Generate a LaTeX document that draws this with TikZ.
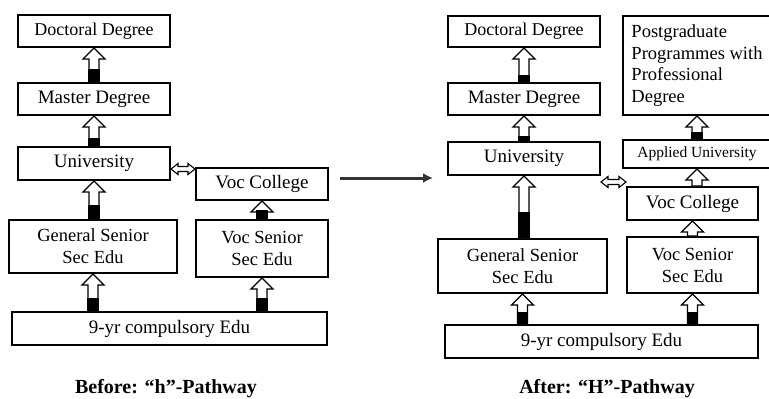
\documentclass[tikz,border=0pt]{standalone}
\usepackage{fontspec}
\setmainfont{Liberation Serif}
\usetikzlibrary{calc,arrows.meta}

\tikzset{
  level/.style={draw, line width=2pt, fill=white, inner sep=0pt, align=center,
                font=\fontsize{19}{22}\selectfont},
  hollow/.style={draw, line width=1.3pt, fill=white, line join=miter},
  caption/.style={font=\fontsize{20}{24}\selectfont\bfseries}
}

% hollow upward block arrow from #1 to #2, black foot of height #3
\newcommand{\liftarrow}[3]{%
  \draw[hollow] let \p1=(#2.south), \p2=(#1.north) in
    (\x1-5pt,\y2) -- (\x1-5pt,\y1-11pt) -- (\x1-11pt,\y1-11pt) -- (\x1,\y1)
    -- (\x1+11pt,\y1-11pt) -- (\x1+5pt,\y1-11pt) -- (\x1+5pt,\y2) -- cycle;
  \fill let \p1=(#2.south), \p2=(#1.north) in
    (\x1-5.6pt,\y2) rectangle (\x1+5.6pt,\y2+#3);
}

% hollow two-headed arrow between #1 and #2 at height #3
\newcommand{\swaparrow}[3]{%
  \draw[hollow, line width=1.1pt] let \p1=(#1.east), \p2=(#2.west), \p3=(0,#3) in
    (\x1,\y3) -- (\x1+7pt,\y3+5.5pt) -- (\x1+7pt,\y3+2.5pt) -- (\x2-7pt,\y3+2.5pt)
    -- (\x2-7pt,\y3+5.5pt) -- (\x2,\y3) -- (\x2-7pt,\y3-5.5pt) -- (\x2-7pt,\y3-2.5pt)
    -- (\x1+7pt,\y3-2.5pt) -- (\x1+7pt,\y3-5.5pt) -- cycle;
}

\begin{document}
\begin{tikzpicture}[x=1pt, y=-1pt]
  \useasboundingbox (0,0) rectangle (769,399);

  % before
  \node[level, minimum width=152, minimum height=32, font=\fontsize{18}{21}\selectfont]
    (doc) at (94,31) {Doctoral Degree};
  \node[level, minimum width=152, minimum height=32] (master) at (94,99) {Master Degree};
  \node[level, minimum width=152, minimum height=33] (univ) at (94,163.5) {University};
  \node[level, minimum width=132, minimum height=32] (voccol) at (262,184) {Voc College};
  \node[level, minimum width=168, minimum height=53, font=\fontsize{18.5}{22}\selectfont]
    (gen) at (93,246.5) {General Senior\\Sec Edu};
  \node[level, minimum width=132, minimum height=57, font=\fontsize{18.5}{22}\selectfont]
    (vocsen) at (262,248.5) {Voc Senior\\Sec Edu};
  \node[level, minimum width=315, minimum height=33] (nine) at (169.5,328.5) {9-yr compulsory Edu};
  \node[caption] (before) at (166,389) {Before: “h”-Pathway};

  \liftarrow{master}{doc}{13pt}
  \liftarrow{univ}{master}{8pt}
  \liftarrow{gen}{univ}{14pt}
  \liftarrow{vocsen}{voccol}{9pt}
  \liftarrow{nine}{gen}{13pt}
  \liftarrow{nine}{vocsen}{13pt}
  \swaparrow{univ}{voccol}{169}

  % reform
  \coordinate (shiftL) at (340,178);
  \coordinate (shiftR) at (433,178);
  \draw[line width=3pt, black!80, -{Latex[length=10pt,width=10pt]}] (shiftL) -- (shiftR);

  % after
  \node[level, minimum width=152, minimum height=31, font=\fontsize{18}{21}\selectfont]
    (doc2) at (524,31.5) {Doctoral Degree};
  \node[level, minimum width=152, minimum height=32] (master2) at (524,99) {Master Degree};
  \node[level, minimum width=152, minimum height=33] (univ2) at (524,158.5) {University};
  \node[level, minimum width=148, minimum height=99, align=left, font=\fontsize{18.5}{21.5}\selectfont]
    (pg) at (697,65.5) {Postgraduate\\Programmes with\\Professional\\Degree};
  \node[level, minimum width=148, minimum height=28, font=\fontsize{15.5}{18}\selectfont]
    (applied) at (697,154) {Applied University};
  \node[level, minimum width=131, minimum height=33] (voccol2) at (692.5,203.5) {Voc College};
  \node[level, minimum width=131, minimum height=56, font=\fontsize{18.5}{22}\selectfont]
    (vocsen2) at (692.5,265) {Voc Senior\\Sec Edu};
  \node[level, minimum width=169, minimum height=54, font=\fontsize{18.5}{22}\selectfont]
    (gen2) at (522.5,266) {General Senior\\Sec Edu};
  \node[level, minimum width=313, minimum height=33] (nine2) at (601.5,341.5) {9-yr compulsory Edu};
  \node[caption] (after) at (607,389) {After: “H”-Pathway};

  \liftarrow{master2}{doc2}{7pt}
  \liftarrow{univ2}{master2}{5pt}
  \liftarrow{gen2}{univ2}{26pt}
  \liftarrow{applied}{pg}{7pt}
  \liftarrow{voccol2}{applied}{0pt}
  \liftarrow{vocsen2}{voccol2}{0pt}
  \liftarrow{nine2}{gen2}{12pt}
  \liftarrow{nine2}{vocsen2}{12pt}
  \swaparrow{univ2}{voccol2}{182}
\end{tikzpicture}
\end{document}
